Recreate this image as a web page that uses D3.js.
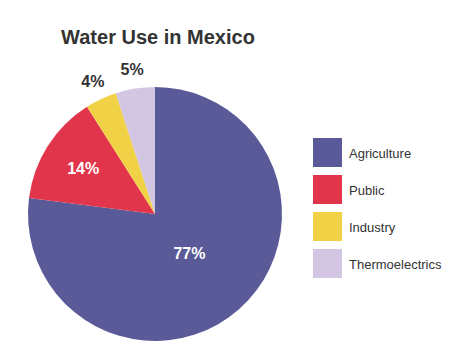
<!DOCTYPE html>
<html>
<head>
<meta charset="utf-8">
<script src="https://cdn.jsdelivr.net/npm/d3@7"></script>
<style>
  body { margin:0; background:#fff; }
  text { font-family: "Liberation Sans", Arial, sans-serif; }
</style>
</head>
<body>
<svg></svg>
<script>
var categories = ["Agriculture","Public","Industry","Thermoelectrics"];
var values = [77,14,4,5];
var labels = ["77%","14%","4%","5%"];
var colorList = ["#5a5a98","#e0354a","#f1d246","#d3c6e2"];

var screen = { width:468, height:353 };

var svg = d3.select("svg")
            .attr("width",screen.width)
            .attr("height",screen.height);

var colors = d3.scaleOrdinal()
               .domain(categories)
               .range(colorList);

var data = categories.map(function(c,i)
{
  return { name:c, value:values[i], label:labels[i] };
});

//title
svg.append("text")
   .attr("x",158)
   .attr("y",44)
   .attr("text-anchor","middle")
   .attr("font-size","20px")
   .attr("font-weight","bold")
   .attr("fill","#333")
   .text("Water Use in Mexico");

var radius = 127;
var pie = d3.pie()
            .sort(null)
            .value(function(d){return d.value;});
var arc = d3.arc().innerRadius(0).outerRadius(radius);

var plotLand = svg.append("g")
                  .attr("transform","translate(155,214)");

var arcs = pie(data);

plotLand.selectAll("path")
        .data(arcs)
        .enter()
        .append("path")
        .attr("d",arc)
        .attr("fill",function(d){return colors(d.data.name);});

// label radius: big slice nearer centre, small slices outside the pie
var labelR = function(d)
{
  if (d.data.value > 50) return radius*0.41;
  if (d.data.value > 10) return radius*0.67;
  return radius*1.15;
};

plotLand.selectAll("text")
        .data(arcs)
        .enter()
        .append("text")
        .attr("transform",function(d)
        {
          var r = labelR(d);
          var p = d3.arc().innerRadius(r).outerRadius(r).centroid(d);
          return "translate("+p[0]+","+p[1]+")";
        })
        .attr("text-anchor","middle")
        .attr("dy","0.35em")
        .attr("font-size","16px")
        .attr("font-weight","bold")
        .attr("fill",function(d){return d.data.value > 10 ? "#fff" : "#333";})
        .text(function(d){return d.data.label;});

//the legend
var legend = svg.append("g")
                .attr("transform","translate(313,138)");

var legendLines = legend.selectAll("g")
                .data(categories)
                .enter()
                .append("g")
                .attr("transform",function(d,i){return "translate(0,"+(i*37)+")";});

legendLines.append("rect")
      .attr("width",29)
      .attr("height",29)
      .attr("fill",function(d){return colors(d);});

legendLines.append("text")
      .attr("x",36)
      .attr("y",20)
      .attr("font-size","13px")
      .attr("fill","#333")
      .text(function(d){return d;});
</script>
</body>
</html>
